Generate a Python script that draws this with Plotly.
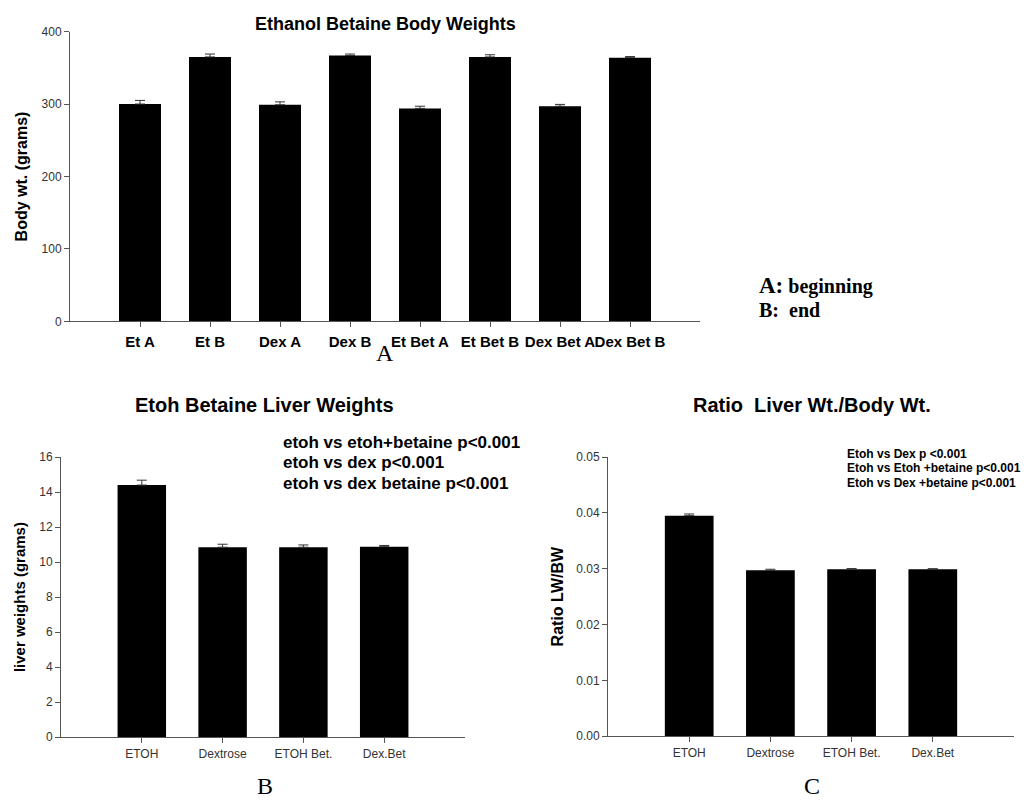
import plotly.graph_objects as go

# Panel A: body weights
cats_a = ["Et A", "Et B", "Dex A", "Dex B", "Et Bet A", "Et Bet B", "Dex Bet A", "Dex Bet B"]
vals_a = [300, 365, 299, 367, 294, 365, 297, 364]
sem_a = [5, 4, 4, 2, 3, 3, 2.5, 1.5]
yticks_a = [0, 100, 200, 300, 400]

# Panel B: liver weights
cats_b = ["ETOH", "Dextrose", "ETOH Bet.", "Dex.Bet"]
vals_b = [14.4, 10.85, 10.85, 10.88]
sem_b = [0.28, 0.17, 0.13, 0.07]
yticks_b = [0, 2, 4, 6, 8, 10, 12, 14, 16]

# Panel C: ratio LW/BW
cats_c = ["ETOH", "Dextrose", "ETOH Bet.", "Dex.Bet"]
vals_c = [0.0395, 0.0297, 0.0299, 0.0299]
sem_c = [0.0003, 0.0002, 0.00012, 0.0001]
yticks_c = [0.0, 0.01, 0.02, 0.03, 0.04, 0.05]

notes_b = ["etoh vs etoh+betaine p<0.001", "etoh vs dex p<0.001", "etoh vs dex betaine p<0.001"]
notes_c = ["Etoh vs Dex p <0.001", "Etoh vs Etoh +betaine p<0.001", "Etoh vs Dex +betaine p<0.001"]

W, H = 1026, 808
SANS = "Liberation Sans, Arial, sans-serif"
SERIF = "Liberation Serif, Times New Roman, serif"

def px(x):
    return x / W

def py(y):
    return 1 - y / H

def err(sem):
    return dict(type="data", array=sem, arrayminus=[0] * len(sem), symmetric=False,
                color="#333333", thickness=1, width=5)

fig = go.Figure()
fig.add_trace(go.Bar(x=cats_a, y=vals_a, width=0.6, marker=dict(color="black", line=dict(width=0)),
                     error_y=err(sem_a), xaxis="x", yaxis="y", showlegend=False))
fig.add_trace(go.Bar(x=cats_b, y=vals_b, width=0.6, marker=dict(color="black", line=dict(width=0)),
                     error_y=err(sem_b), xaxis="x2", yaxis="y2", showlegend=False))
fig.add_trace(go.Bar(x=cats_c, y=vals_c, width=0.6, marker=dict(color="black", line=dict(width=0)),
                     error_y=err(sem_c), xaxis="x3", yaxis="y3", showlegend=False))

axis_common = dict(showline=True, linecolor="#555555", linewidth=1, showgrid=False, zeroline=False,
                   ticks="outside", ticklen=5, tickcolor="#555555", fixedrange=True)
tick_small = dict(family=SANS, size=12, color="#333333")

fig.update_layout(
    width=W, height=H, margin=dict(l=0, r=0, t=0, b=0),
    paper_bgcolor="white", plot_bgcolor="white", bargap=0.4,
    xaxis=dict(domain=[px(70), px(700)], anchor="y", type="category", range=[-1, 8],
               tickfont=dict(family=SANS, size=15, color="black", weight="bold"),
               tickangle=0, ticklabelstandoff=2, **axis_common),
    yaxis=dict(domain=[py(320), py(25)], anchor="x", range=[0, 400], tickvals=yticks_a,
               tickfont=tick_small,
               title=dict(text="Body wt. (grams)", font=dict(family=SANS, size=16, color="black", weight="bold"),
                          standoff=9),
               **axis_common),
    xaxis2=dict(domain=[px(61), px(465)], anchor="y2", type="category", range=[-1, 4],
                tickangle=0, tickfont=tick_small, **axis_common),
    yaxis2=dict(domain=[py(743), py(458)], anchor="x2", range=[0, 16], tickvals=yticks_b,
                tickfont=tick_small,
                title=dict(text="liver weights (grams)", font=dict(family=SANS, size=15, color="black", weight="bold"),
                           standoff=9),
                **axis_common),
    xaxis3=dict(domain=[px(608), px(1014)], anchor="y3", type="category", range=[-1, 4],
                tickangle=0, tickfont=tick_small, **axis_common),
    yaxis3=dict(domain=[py(742), py(458)], anchor="x3", range=[0, 0.05], tickvals=yticks_c,
                tickformat=".2f",
                tickfont=tick_small,
                title=dict(text="Ratio LW/BW", font=dict(family=SANS, size=16, color="black", weight="bold"),
                           standoff=8),
                **axis_common),
)

ann = []
def text(x, y, s, size, family=SANS, bold=True, xanchor="center", color="black"):
    ann.append(dict(x=px(x), y=py(y), xref="paper", yref="paper", text=s, showarrow=False,
                    xanchor=xanchor, yanchor="middle",
                    font=dict(family=family, size=size, color=color, weight="bold" if bold else "normal")))

# titles
text(385, 17, "Ethanol Betaine Body Weights", 18)
text(264, 405, "Etoh Betaine Liver Weights", 20)
text(812, 405, "Ratio  Liver Wt./Body Wt.", 20)

# stats notes
for i, s in enumerate(notes_b):
    text(281, 443 + 21 * i, s, 17, xanchor="left")
for i, s in enumerate(notes_c):
    text(845, 455 + 14.5 * i, s, 12, xanchor="left")

# legend-ish text (A/B meaning)
ann.append(dict(x=px(757), y=py(283), xref="paper", yref="paper", showarrow=False, xanchor="left",
                yanchor="middle", text="<span style='font-size:23px'>A:</span> beginning",
                font=dict(family=SERIF, size=20, color="black", weight="bold")))
ann.append(dict(x=px(757), y=py(308), xref="paper", yref="paper", showarrow=False, xanchor="left",
                yanchor="middle", text="B:  end",
                font=dict(family=SERIF, size=20, color="black", weight="bold")))

# panel letters
text(385, 352, "A", 24, family=SERIF, bold=False)
text(265, 793, "B", 24, family=SERIF, bold=False)
text(812, 793, "C", 24, family=SERIF, bold=False)

fig.update_layout(annotations=ann)
fig.write_html("out.html", config={"displayModeBar": False},
               post_script="document.body.style.margin='0';")
